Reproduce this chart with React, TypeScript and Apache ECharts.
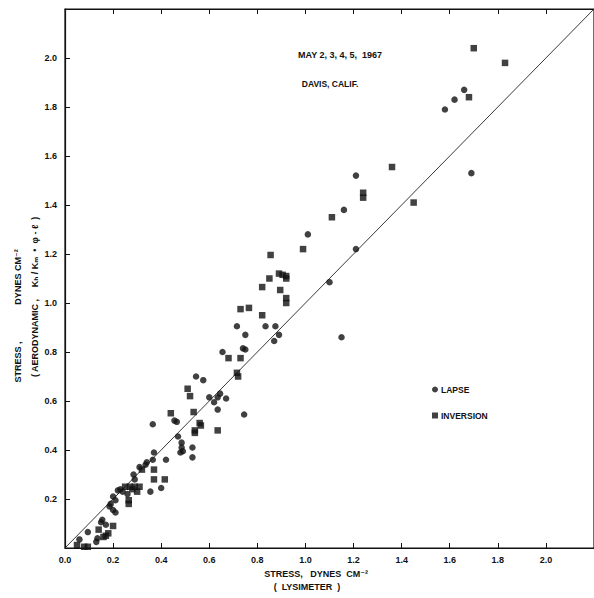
import React, { useEffect, useRef } from "react";
import * as echarts from "echarts";

const xTicks = [0, 0.2, 0.4, 0.6, 0.8, 1.0, 1.2, 1.4, 1.6, 1.8, 2.0];

const lapse: number[][] = [
  [1.66, 1.87], [1.62, 1.83], [1.58, 1.79], [1.69, 1.53], [1.21, 1.52], [1.16, 1.38],
  [1.01, 1.28], [1.21, 1.22], [1.10, 1.085], [1.15, 0.86], [0.715, 0.905], [0.834, 0.905],
  [0.875, 0.905], [0.75, 0.87], [0.89, 0.87], [0.87, 0.845], [0.655, 0.80], [0.74, 0.815],
  [0.75, 0.81], [0.545, 0.70], [0.575, 0.685], [0.60, 0.615], [0.635, 0.615], [0.62, 0.595],
  [0.645, 0.63], [0.67, 0.61], [0.635, 0.565], [0.745, 0.545], [0.455, 0.52], [0.465, 0.515],
  [0.365, 0.505], [0.47, 0.455], [0.485, 0.43], [0.485, 0.41], [0.48, 0.39], [0.49, 0.395],
  [0.53, 0.41], [0.53, 0.37], [0.42, 0.36], [0.37, 0.39], [0.365, 0.36], [0.34, 0.35],
  [0.285, 0.30], [0.29, 0.28], [0.40, 0.245], [0.355, 0.23], [0.22, 0.235], [0.21, 0.195],
  [0.20, 0.21], [0.24, 0.23], [0.19, 0.18], [0.20, 0.155], [0.21, 0.145], [0.185, 0.17],
  [0.15, 0.105], [0.155, 0.115], [0.17, 0.095], [0.13, 0.025], [0.135, 0.04], [0.095, 0.065],
  [0.06, 0.035], [0.31, 0.33], [0.335, 0.34], [0.23, 0.24], [0.26, 0.22],
];

const inversion: number[][] = [
  [1.70, 2.04], [1.83, 1.98], [1.68, 1.84], [1.36, 1.555], [1.24, 1.45], [1.24, 1.43],
  [1.45, 1.41], [1.11, 1.35], [0.99, 1.22], [0.92, 1.11], [0.92, 1.02], [0.92, 1.00],
  [0.855, 1.196], [0.89, 1.12], [0.905, 1.115], [0.92, 1.10], [0.85, 1.10], [0.82, 1.065],
  [0.895, 1.053], [0.73, 0.975], [0.765, 0.98], [0.82, 0.95], [0.68, 0.775], [0.73, 0.775],
  [0.715, 0.715], [0.72, 0.70], [0.51, 0.65], [0.52, 0.62], [0.535, 0.555], [0.44, 0.55],
  [0.635, 0.48], [0.56, 0.51], [0.565, 0.50], [0.54, 0.48], [0.54, 0.47], [0.37, 0.32],
  [0.415, 0.28], [0.37, 0.28], [0.265, 0.195], [0.265, 0.18], [0.25, 0.25], [0.27, 0.25],
  [0.29, 0.25], [0.31, 0.25], [0.28, 0.24], [0.30, 0.23], [0.17, 0.05], [0.18, 0.06],
  [0.16, 0.045], [0.14, 0.075], [0.08, 0.005], [0.095, 0.005], [0.05, 0.012], [0.20, 0.09],
  [0.32, 0.32],
];

const oneToOne: number[][] = [
  [0, 0],
  [2.2, 2.2],
];

const FONT = "'Liberation Sans', 'DejaVu Sans', Arial, sans-serif";

export default function App() {
  const ref = useRef<HTMLDivElement>(null);
  useEffect(() => {
    if (!ref.current) return;
    const chart = echarts.init(ref.current, null, { renderer: "svg" });
    const axisCommon = {
      type: "value" as const,
      min: 0,
      max: 2.2,
      interval: 0.2,
      splitLine: { show: false },
      axisLine: { show: true, lineStyle: { color: "#111", width: 1.2 } },
      axisTick: { show: true, inside: true, length: 5, lineStyle: { color: "#111" } },
    };
    const labelStyle = {
      fontFamily: FONT,
      fontSize: 9,
      fontWeight: "bold" as const,
      color: "#111",
    };
    const txt = (text: string, x: number, y: number, size: number, rot = 0) => ({
      type: "text",
      x,
      y,
      rotation: rot,
      style: {
        text,
        fontFamily: FONT,
        fontSize: size,
        fontWeight: "bold",
        fill: "#111",
        align: "center",
        verticalAlign: "middle",
      },
    });
    chart.setOption({
      animation: false,
      backgroundColor: "#ffffff",
      grid: { left: 65, right: -9, top: 9, bottom: 50, show: true, borderColor: "#111", borderWidth: 1.2 },
      xAxis: [
        {
          ...axisCommon,
          position: "bottom",
          axisLabel: {
            ...labelStyle,
            margin: 7,
            formatter: (v: number) => v.toFixed(1),
            showMaxLabel: false,
          },
        },
        {
          ...axisCommon,
          position: "top",
          axisLabel: { show: false },
        },
      ],
      yAxis: {
        ...axisCommon,
        axisLabel: {
          ...labelStyle,
          margin: 8,
          showMinLabel: false,
          showMaxLabel: false,
          formatter: (v: number) => v.toFixed(1),
        },
      },
      legend: {
        orient: "vertical",
        left: 427,
        top: 380,
        itemWidth: 6,
        itemHeight: 6,
        itemGap: 17,
        itemStyle: { color: "#111" },
        textStyle: { fontFamily: FONT, fontSize: 8.5, fontWeight: "bold", color: "#111", padding: [0, 0, 0, -2] },
        data: [
          { name: "LAPSE", icon: "circle" },
          { name: "INVERSION", icon: "rect" },
        ],
      },
      series: [
        {
          type: "line",
          data: oneToOne,
          showSymbol: false,
          symbol: "none",
          lineStyle: { color: "#222", width: 0.9 },
          silent: true,
          z: 1,
        },
        {
          name: "LAPSE",
          type: "scatter",
          data: lapse,
          symbol: "circle",
          symbolSize: 6.5,
          itemStyle: { color: "#111" },
          z: 3,
        },
        {
          name: "INVERSION",
          type: "scatter",
          data: inversion,
          symbol: "rect",
          symbolSize: 6.5,
          itemStyle: { color: "#111" },
          z: 3,
        },
      ],
      graphic: [
        txt("MAY 2, 3, 4, 5,  1967", 340, 55, 9),
        txt("DAVIS, CALIF.", 330, 84, 8.5),
        txt("STRESS ,", 18, 362, 9, Math.PI / 2),
        txt("DYNES CM⁻²", 18, 277, 9, Math.PI / 2),
        txt("( AERODYNAMIC ,", 35, 338, 9, Math.PI / 2),
        txt("Kₕ / Kₘ  •  φ - ℓ  )", 35, 252, 9, Math.PI / 2),
        txt("STRESS,   DYNES  CM⁻²", 316, 574, 9),
        txt("(  LYSIMETER  )", 307, 587, 9),
      ],
    });
    return () => chart.dispose();
  }, []);
  return <div ref={ref} style={{ width: 594, height: 598, position: "absolute", left: 0, top: 0 }} />;
}
